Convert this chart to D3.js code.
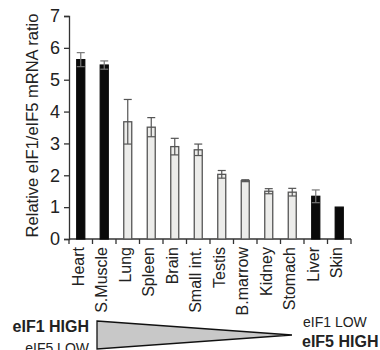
<!DOCTYPE html>
<html>
<head>
<meta charset="utf-8">
<script src="https://cdn.jsdelivr.net/npm/d3@7"></script>
<style>
body { margin: 0; background: #fff; }
text { font-family: "Liberation Sans", Arial, sans-serif; fill: #222; }
</style>
</head>
<body>
<div id="chart"></div>
<script>
var width = 380;
var height = 350;

var tejidos = ["Heart", "S.Muscle", "Lung", "Spleen", "Brain", "Small int.", "Testis", "B.marrow", "Kidney", "Stomach", "Liver", "Skin"];
var ratios = [5.63, 5.46, 3.68, 3.51, 2.9, 2.8, 2.03, 1.83, 1.5, 1.47, 1.34, 1.0];
var errores = [0.22, 0.13, 0.7, 0.3, 0.26, 0.18, 0.12, 0.03, 0.08, 0.12, 0.2, 0];
var oscuras = ["Heart", "S.Muscle", "Liver", "Skin"];
var ticksY = [0, 1, 2, 3, 4, 5, 6, 7];

var canvas = d3.select("#chart")
	.append("svg")
	.attr("width", width)
	.attr("height", height);

var x = d3.scaleBand()
	.domain(tejidos)
	.range([69, 351])
	.paddingInner(0.66)
	.paddingOuter(0.33);

var y = d3.scaleLinear()
	.domain([0, 7])
	.range([239, 16]);

// Eje Y
var ejeY = canvas.append("g")
	.attr("transform", "translate(69,0)")
	.call(d3.axisLeft(y).tickValues(ticksY).tickFormat(d3.format("d")).tickSize(5).tickPadding(4));
ejeY.select(".domain").attr("stroke", "#333").attr("stroke-width", 1.3);
ejeY.selectAll(".tick line").attr("stroke", "#333").attr("stroke-width", 1.3);
ejeY.selectAll("text").style("font-size", "18px").attr("fill", "#222");

canvas.append("text")
	.attr("transform", "translate(38," + (y(3.5) - 2) + ") rotate(-90)")
	.attr("text-anchor", "middle")
	.style("font-size", "16.5px")
	.text("Relative eIF1/eIF5 mRNA ratio");

// Eje X
canvas.append("line")
	.attr("x1", x.range()[0]).attr("x2", x.range()[1])
	.attr("y1", y(0)).attr("y2", y(0))
	.attr("stroke", "#333").attr("stroke-width", 1.3);

for (var i = 0; i <= tejidos.length; i++) {
	var xt = x.range()[0] + i * x.step();
	canvas.append("line")
		.attr("x1", xt).attr("x2", xt)
		.attr("y1", y(0)).attr("y2", y(0) + 5)
		.attr("stroke", "#333").attr("stroke-width", 1.3);
}

// Barras
var grupo_barras = canvas.append("g");
tejidos.forEach(function(t, i) {
	var oscura = oscuras.indexOf(t) >= 0;
	grupo_barras.append("rect")
		.attr("x", x(t))
		.attr("y", y(ratios[i]))
		.attr("width", x.bandwidth())
		.attr("height", y(0) - y(ratios[i]))
		.attr("fill", oscura ? "#0a0a0a" : "#ececea")
		.attr("stroke", oscura ? "#0a0a0a" : "#555")
		.attr("stroke-width", 1.3);

	if (errores[i] > 0) {
		var cx = x(t) + x.bandwidth() / 2;
		var lo = y(ratios[i] - errores[i]);
		var hi = y(ratios[i] + errores[i]);
		var col = oscura ? "#777" : "#555";
		grupo_barras.append("line")
			.attr("x1", cx).attr("x2", cx).attr("y1", lo).attr("y2", hi)
			.attr("stroke", col).attr("stroke-width", 1.2);
		[lo, hi].forEach(function(yy) {
			grupo_barras.append("line")
				.attr("x1", x(t)).attr("x2", x(t) + x.bandwidth())
				.attr("y1", yy).attr("y2", yy)
				.attr("stroke", col).attr("stroke-width", 1.2);
		});
	}
});

// Etiquetas de tejidos
tejidos.forEach(function(t) {
	canvas.append("text")
		.attr("transform", "translate(" + (x(t) + x.bandwidth() / 2) + "," + (y(0) + 8) + ") rotate(-90)")
		.attr("text-anchor", "end")
		.attr("dy", "0.2em")
		.style("font-size", "16px")
		.text(t);
});

// Triangulo
canvas.append("path")
	.attr("d", "M97,321 L292,335 L97,349 Z")
	.attr("fill", "#c8c8c8")
	.attr("stroke", "#111")
	.attr("stroke-width", 1.3);

canvas.append("text")
	.attr("x", 89).attr("y", 332)
	.attr("text-anchor", "end")
	.style("font-size", "16px").style("font-weight", "bold")
	.text("eIF1 HIGH");
canvas.append("text")
	.attr("x", 89).attr("y", 353)
	.attr("text-anchor", "end")
	.style("font-size", "14px")
	.text("eIF5 LOW");
canvas.append("text")
	.attr("x", 303).attr("y", 327)
	.style("font-size", "14px")
	.text("eIF1 LOW");
canvas.append("text")
	.attr("x", 302).attr("y", 347)
	.style("font-size", "16px").style("font-weight", "bold")
	.text("eIF5 HIGH");
</script>
</body>
</html>
